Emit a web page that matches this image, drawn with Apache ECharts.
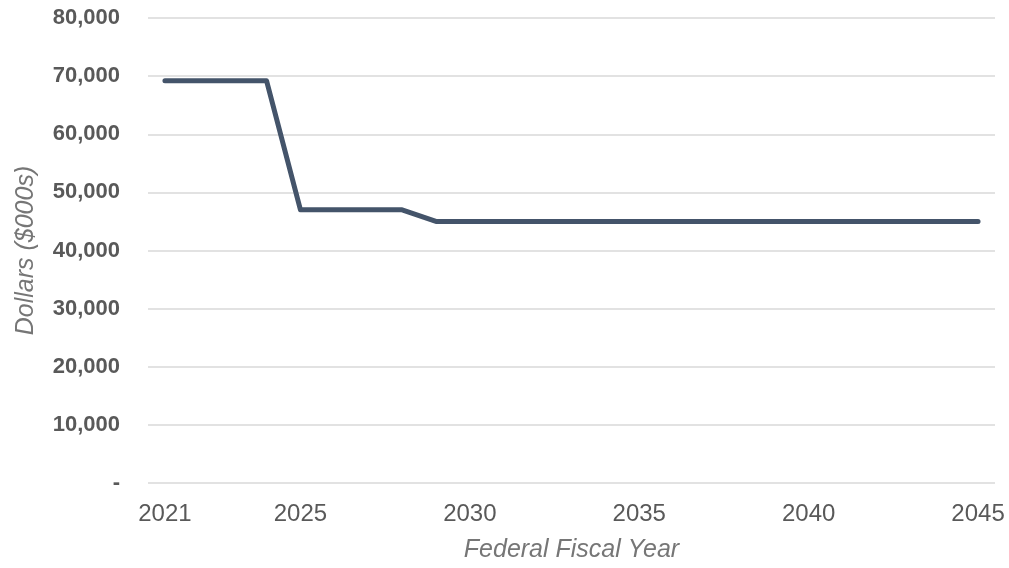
<!DOCTYPE html>
<html>
<head>
<meta charset="utf-8">
<script src="https://cdn.jsdelivr.net/npm/echarts@6/dist/echarts.min.js"></script>
<style>html,body{margin:0;padding:0;background:#fff;overflow:hidden}#c{width:1009px;height:568px}</style>
</head>
<body>
<div id="c"></div>
<script>
const years = ['2021','2022','2023','2024','2025','2026','2027','2028','2029','2030','2031','2032','2033','2034','2035','2036','2037','2038','2039','2040','2041','2042','2043','2044','2045'];
const dollars = [69200,69200,69200,69200,47000,47000,47000,47000,45000,45000,45000,45000,45000,45000,45000,45000,45000,45000,45000,45000,45000,45000,45000,45000,45000];
const shownYears = ['2021','2025','2030','2035','2040','2045'];
const yTicks = [0,10000,20000,30000,40000,50000,60000,70000,80000];

const chart = echarts.init(document.getElementById('c'), null, {width: 1009, height: 568});
chart.setOption({
  animation: false,
  grid: {left: 148, right: 14, top: 18, bottom: 79},
  xAxis: {
    type: 'category',
    data: years,
    boundaryGap: true,
    axisLine: {show: false},
    axisTick: {show: false},
    axisLabel: {
      interval: function(i, v){ return shownYears.indexOf(v) >= 0; },
      color: '#595959', fontSize: 24, fontFamily: 'Liberation Sans, Arial, sans-serif', margin: 19
    },
    name: 'Federal Fiscal Year',
    nameLocation: 'middle',
    nameGap: 55,
    nameTextStyle: {color: '#767676', fontSize: 25, fontStyle: 'italic', fontFamily: 'Liberation Sans, Arial, sans-serif'}
  },
  yAxis: {
    type: 'value',
    min: yTicks[0], max: yTicks[yTicks.length-1], interval: 10000,
    axisLine: {show: false},
    axisTick: {show: false},
    splitLine: {lineStyle: {color: '#d9d9d9', width: 1.5}},
    axisLabel: {
      color: '#595959', fontSize: 22, fontWeight: 'bold', fontFamily: 'Liberation Sans, Arial, sans-serif', margin: 28,
      formatter: function(v){ return v === 0 ? '-' : v.toLocaleString('en-US'); }
    },
    name: 'Dollars ($000s)',
    nameLocation: 'middle',
    nameGap: 109,
    nameRotate: 90,
    nameTextStyle: {color: '#767676', fontSize: 25, fontStyle: 'italic', fontFamily: 'Liberation Sans, Arial, sans-serif'}
  },
  series: [{
    type: 'line',
    data: dollars,
    symbol: 'none',
    lineStyle: {color: '#44546a', width: 5, cap: 'round', join: 'round'}
  }]
});
</script>
</body>
</html>
